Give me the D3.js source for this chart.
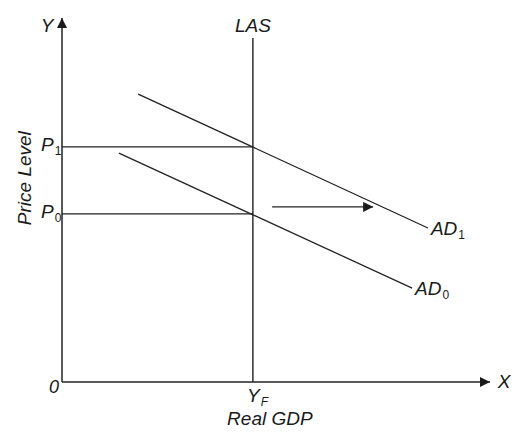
<!DOCTYPE html>
<html>
<head>
<meta charset="utf-8">
<script src="https://cdn.jsdelivr.net/npm/d3@7"></script>
<style>
  body { margin: 0; background: #fff; }
  text { font-family: "Liberation Sans", Arial, sans-serif; font-style: italic; fill: #1a1a1a; }
</style>
</head>
<body>
<script>
// values in abstract units (0..100 on both axes)
const yF = 44.6;
const lasTop = 94.5;
const priceLevels = [
  { name: "P", sub: "0", y: 46.2 },
  { name: "P", sub: "1", y: 64.6 }
];
const adCurves = [
  { name: "AD", sub: "0", x: [13.3, 81.8], y: [62.9, 25.8] },
  { name: "AD", sub: "1", x: [17.8, 85.5], y: [79.1, 42.3] }
];
const shiftArrow = { x: [49.1, 72.7], y: 48.1 };

const width = 524, height = 436;
const x = d3.scaleLinear().domain([0, 100]).range([62, 490]);
const y = d3.scaleLinear().domain([0, 100]).range([382, 18]);

const svg = d3.select("body").append("svg")
  .attr("width", width).attr("height", height);

const defs = svg.append("defs");
defs.append("marker")
  .attr("id", "head")
  .attr("viewBox", "0 0 10 10")
  .attr("refX", 10).attr("refY", 5)
  .attr("markerWidth", 10).attr("markerHeight", 10)
  .attr("markerUnits", "userSpaceOnUse")
  .attr("orient", "auto")
  .append("path").attr("d", "M0,0L10,5L0,10Z").attr("fill", "#1a1a1a");

const stroke = "#222";

// axes
svg.append("line")
  .attr("x1", x(0)).attr("y1", y(0)).attr("x2", x(0)).attr("y2", y(100))
  .attr("stroke", stroke).attr("stroke-width", 1.5).attr("marker-end", "url(#head)");
svg.append("line")
  .attr("x1", x(0)).attr("y1", y(0)).attr("x2", x(100)).attr("y2", y(0))
  .attr("stroke", stroke).attr("stroke-width", 1.5).attr("marker-end", "url(#head)");

// LAS
svg.append("line")
  .attr("x1", x(yF)).attr("y1", y(0)).attr("x2", x(yF)).attr("y2", y(lasTop))
  .attr("stroke", stroke).attr("stroke-width", 1.4);

// price level guides
svg.selectAll(".guide").data(priceLevels).enter().append("line")
  .attr("x1", x(0)).attr("x2", x(yF))
  .attr("y1", d => y(d.y)).attr("y2", d => y(d.y))
  .attr("stroke", stroke).attr("stroke-width", 1.3);

// AD curves
svg.selectAll(".ad").data(adCurves).enter().append("line")
  .attr("x1", d => x(d.x[0])).attr("y1", d => y(d.y[0]))
  .attr("x2", d => x(d.x[1])).attr("y2", d => y(d.y[1]))
  .attr("stroke", stroke).attr("stroke-width", 1.3);

// shift arrow
svg.append("line")
  .attr("x1", x(shiftArrow.x[0])).attr("x2", x(shiftArrow.x[1]))
  .attr("y1", y(shiftArrow.y)).attr("y2", y(shiftArrow.y))
  .attr("stroke", stroke).attr("stroke-width", 1.3).attr("marker-end", "url(#head)");

// labels
function subLabel(px, py, main, sub, subStyle) {
  const t = svg.append("text").attr("x", px).attr("y", py).attr("font-size", 19);
  t.append("tspan").text(main);
  t.append("tspan").attr("dy", 4).attr("dx", 1).attr("font-size", 12)
    .style("font-style", subStyle || "normal").text(sub);
  return t;
}

svg.append("text").attr("x", 47).attr("y", 32).attr("font-size", 19)
  .attr("text-anchor", "middle").text("Y");
svg.append("text").attr("x", x(yF)).attr("y", 32).attr("font-size", 19)
  .attr("text-anchor", "middle").text("LAS");
svg.append("text").attr("x", 504).attr("y", 388).attr("font-size", 19)
  .attr("text-anchor", "middle").text("X");
svg.append("text").attr("x", 54).attr("y", 393).attr("font-size", 18)
  .attr("text-anchor", "middle").text("0");

priceLevels.forEach(d => subLabel(41, y(d.y) + 4, d.name, d.sub));
adCurves.forEach(d => subLabel(x(d.x[1]) + 3, y(d.y[1]) + 7, d.name, d.sub));

subLabel(247, 402, "Y", "F", "italic");
svg.append("text").attr("x", x(yF) + 17).attr("y", 425).attr("font-size", 19)
  .attr("text-anchor", "middle").text("Real GDP");

svg.append("text")
  .attr("transform", `translate(31, ${y(56)}) rotate(-90)`)
  .attr("font-size", 19).attr("text-anchor", "middle").text("Price Level");
</script>
</body>
</html>
